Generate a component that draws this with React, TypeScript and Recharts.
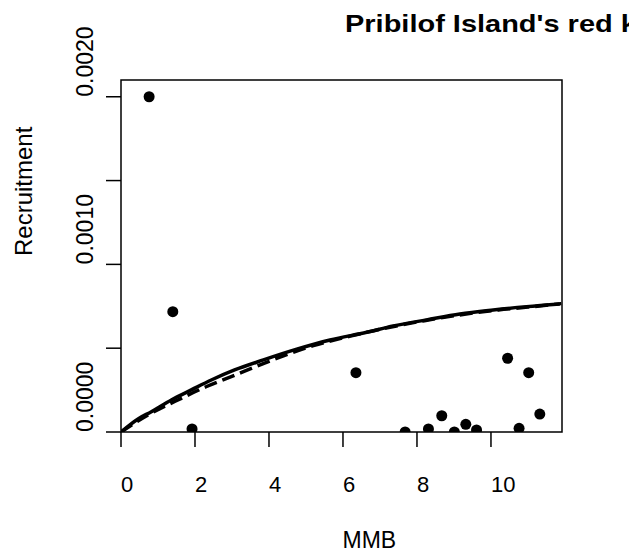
import React from "react";
import {
  ComposedChart,
  Line,
  Scatter,
  XAxis,
  YAxis,
  ReferenceArea,
  Customized,
} from "recharts";

// observed stock/recruit pairs
const obsMmb = [0.76, 1.4, 1.92, 6.35, 7.68, 8.31, 8.67, 9.01, 9.32, 9.61, 10.45, 10.76, 11.02, 11.32];
const obsRec = [
  0.002, 0.000718, 0.000018, 0.000354, 0.0, 0.000018, 0.000097, 0.0, 0.000046, 0.000012,
  0.00044, 0.000022, 0.000354, 0.000107,
];

// fitted curve (solid)
const fitMmb = [0, 0.46, 0.82, 1.36, 1.9, 2.44, 3.07, 3.85, 4.75, 5.65, 6.64, 7.36, 8.26, 9.16, 10.06, 10.96, 11.86];
const fitRec = [
  0, 0.000078, 0.000121, 0.000191, 0.000251, 0.00031, 0.00037, 0.00043, 0.000494, 0.000549,
  0.000595, 0.000633, 0.000669, 0.000704, 0.000728, 0.000748, 0.000764,
];

// second curve (dashed)
const altMmb = [0, 0.73, 1.63, 2.3, 2.98, 3.76, 4.39, 5.2, 6.2, 7.2, 8.2, 9.2, 10.2, 11.0, 11.9];
const altRec = [
  0, 0.000101, 0.000201, 0.00027, 0.00033, 0.0004, 0.000454, 0.000515, 0.000572, 0.000622,
  0.000664, 0.0007, 0.000728, 0.000745, 0.000766,
];

const xTicks = [0, 2, 4, 6, 8, 10];
const yTicks = [0, 0.0005, 0.001, 0.0015, 0.002];
const yLabelled = [0, 0.001, 0.002];

const X_MAX = 11.92;
const Y_MAX = 0.0021;

const W = 629;
const H = 557;
const LEFT = 121;
const TOP = 80;
const RIGHT = 67;
const BOTTOM = 125;
const FONT = "'Liberation Sans', Arial, Helvetica, sans-serif";

const points = obsMmb.map((x, i) => ({ x, y: obsRec[i] }));
const fitData = fitMmb.map((x, i) => ({ x, y: fitRec[i] }));
const altData = altMmb.map((x, i) => ({ x, y: altRec[i] }));

const XTick = (props: any) => {
  const { x, y, payload } = props;
  return (
    <text x={x} y={y} textAnchor="start" fontSize={22} fontFamily={FONT} fill="#000">
      {payload.value}
    </text>
  );
};

const YTick = (props: any) => {
  const { x, y, payload } = props;
  if (!yLabelled.some((v) => Math.abs(v - payload.value) < 1e-9)) return <g />;
  return (
    <text
      x={x}
      y={y}
      transform={`rotate(-90 ${x} ${y})`}
      textAnchor="start"
      fontSize={23}
      fontFamily={FONT}
      fill="#000"
    >
      {payload.value.toFixed(4)}
    </text>
  );
};

const Dot = (props: any) => {
  const { cx, cy } = props;
  return <circle cx={cx} cy={cy} r={5.5} fill="#000" />;
};

const Texts = () => {
  const midX = LEFT + (W - LEFT - RIGHT) / 2;
  const midY = TOP + (H - TOP - BOTTOM) / 2;
  return (
    <g fontFamily={FONT} fill="#000">
      <text
        x={345}
        y={32}
        fontSize={23}
        fontWeight="bold"
        transform={`translate(345 0) scale(1.26 1) translate(-345 0)`}
      >
        Pribilof Island's red king crab
      </text>
      <text x={midX + 1} y={548} fontSize={23} textAnchor="start">
        MMB
      </text>
      <text x={32} y={midY} fontSize={24} textAnchor="start" transform={`rotate(-90 32 ${midY})`}>
        Recruitment
      </text>
    </g>
  );
};

export default function App() {
  return (
    <div style={{ position: "absolute", left: 0, top: 0, width: W, height: H, overflow: "hidden", background: "#fff" }}>
      <ComposedChart width={W} height={H} margin={{ top: TOP, right: RIGHT, bottom: 0, left: 0 }}>
        <XAxis
          type="number"
          dataKey="x"
          domain={[0, X_MAX]}
          ticks={xTicks}
          allowDataOverflow
          height={BOTTOM}
          tickSize={15}
          tickMargin={45}
          axisLine={false}
          tickLine={{ stroke: "#000", strokeWidth: 1.5 }}
          tick={<XTick />}
        />
        <YAxis
          type="number"
          dataKey="y"
          domain={[0, Y_MAX]}
          ticks={yTicks}
          allowDataOverflow
          width={LEFT}
          tickSize={15}
          tickMargin={13}
          axisLine={false}
          tickLine={{ stroke: "#000", strokeWidth: 1.5 }}
          tick={<YTick />}
        />
        <ReferenceArea
          x1={0}
          x2={X_MAX}
          y1={0}
          y2={Y_MAX}
          fill="none"
          fillOpacity={0}
          stroke="#000"
          strokeWidth={1.5}
          ifOverflow="visible"
        />
        <Line
          data={fitData}
          dataKey="y"
          type="monotone"
          stroke="#000"
          strokeWidth={3.5}
          dot={false}
          activeDot={false}
          isAnimationActive={false}
        />
        <Line
          data={altData}
          dataKey="y"
          type="monotone"
          stroke="#000"
          strokeWidth={3.5}
          strokeDasharray="13 6"
          dot={false}
          activeDot={false}
          isAnimationActive={false}
        />
        <Scatter data={points} dataKey="y" fill="#000" shape={<Dot />} isAnimationActive={false} />
        <Customized component={<Texts />} />
      </ComposedChart>
    </div>
  );
}
